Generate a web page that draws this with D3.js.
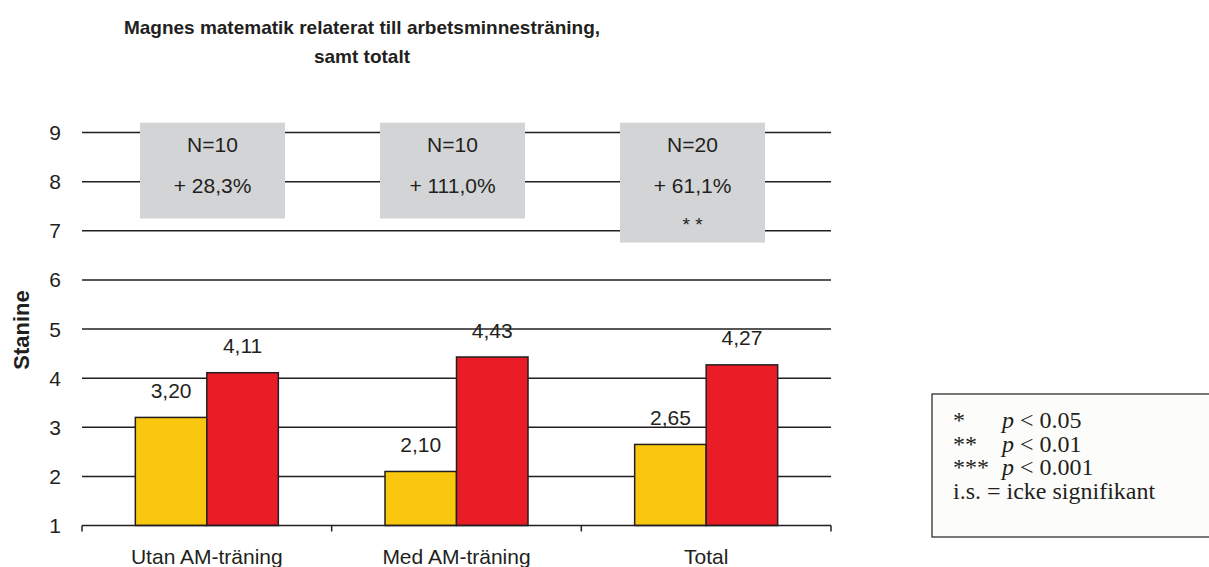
<!DOCTYPE html>
<html>
<head>
<meta charset="utf-8">
<script src="https://cdn.jsdelivr.net/npm/d3@7"></script>
<style>
  body { margin: 0; background: #fff; }
  svg { display: block; font-family: Arial, "Liberation Sans", sans-serif; }
</style>
</head>
<body>
<div id="chart"></div>
<script>
// data
var categories = ["Utan AM-träning", "Med AM-träning", "Total"];
var series = ["före", "efter"];
var before = [3.20, 2.10, 2.65];
var after = [4.11, 4.43, 4.27];
var yTicks = [1, 2, 3, 4, 5, 6, 7, 8, 9];
var boxN = ["N=10", "N=10", "N=20"];
var boxPct = ["+ 28,3%", "+ 111,0%", "+ 61,1%"];
var boxSig = ["", "", "* *"];
var legendRows = [["*", "p < 0.05"], ["**", "p < 0.01"], ["***", "p < 0.001"]];
var legendLast = "i.s. = icke signifikant";

var width = 1209, height = 567;
var colors = { "före": "#f9c80e", "efter": "#ea1d27" };
var ink = "#231f20";

var svg = d3.select("#chart").append("svg")
    .attr("width", width)
    .attr("height", height);

var x = d3.scaleBand().domain(categories).range([82, 831]);
var xBox = d3.scaleBand().domain(categories).range([92.5, 812.5]);
var y = d3.scaleLinear().domain([1, 9]).range([525.5, 132.5]);
var groupW = 143;
var x1 = d3.scaleBand().domain(series)
    .range([(x.bandwidth() - groupW) / 2, (x.bandwidth() + groupW) / 2]);

// title
svg.append("text")
    .attr("x", 362).attr("y", 34)
    .attr("text-anchor", "middle")
    .style("font-size", "19px").style("font-weight", "bold").attr("fill", ink)
    .text("Magnes matematik relaterat till arbetsminnesträning,");
svg.append("text")
    .attr("x", 362).attr("y", 63)
    .attr("text-anchor", "middle")
    .style("font-size", "19px").style("font-weight", "bold").attr("fill", ink)
    .text("samt totalt");

// gridlines
svg.append("g").selectAll("line")
    .data(yTicks.filter(d => d > 1))
    .enter().append("line")
    .attr("x1", 82).attr("x2", 831)
    .attr("y1", d => y(d)).attr("y2", d => y(d))
    .attr("stroke", ink).attr("stroke-width", 1.5);

// y tick labels
svg.append("g").selectAll("text")
    .data(yTicks)
    .enter().append("text")
    .attr("x", 61).attr("y", d => y(d) + 7.5)
    .attr("text-anchor", "end")
    .style("font-size", "21px").attr("fill", ink)
    .text(d => d);

// y axis title
svg.append("text")
    .attr("transform", "translate(29," + 330 + ") rotate(-90)")
    .attr("text-anchor", "middle")
    .style("font-size", "22px").style("font-weight", "bold").attr("fill", ink)
    .text("Stanine");

// annotation boxes
var boxes = svg.append("g").selectAll("g")
    .data(categories)
    .enter().append("g")
    .attr("transform", d => "translate(" + (xBox(d) + xBox.bandwidth() / 2) + ",0)");
boxes.append("rect")
    .attr("x", -72.5).attr("width", 145)
    .attr("y", y(9.2))
    .attr("height", (d, i) => (boxSig[i] ? y(6.76) : y(7.25)) - y(9.2))
    .attr("fill", "#d3d4d6");
boxes.append("text")
    .attr("y", 151.5).attr("text-anchor", "middle")
    .style("font-size", "21px").attr("fill", ink)
    .text((d, i) => boxN[i]);
boxes.append("text")
    .attr("y", 192.5).attr("text-anchor", "middle")
    .style("font-size", "21px").attr("fill", ink)
    .text((d, i) => boxPct[i]);
boxes.append("text")
    .attr("y", 231).attr("text-anchor", "middle")
    .style("font-size", "19px").attr("fill", ink)
    .text((d, i) => boxSig[i]);

// bars
var rows = categories.map((c, i) => ({ cat: c, values: [
    { s: "före", v: before[i] }, { s: "efter", v: after[i] }] }));
var groups = svg.append("g").selectAll("g")
    .data(rows)
    .enter().append("g")
    .attr("transform", d => "translate(" + x(d.cat) + ",0)");
groups.selectAll("rect")
    .data(d => d.values)
    .enter().append("rect")
    .attr("x", d => x1(d.s))
    .attr("width", x1.bandwidth())
    .attr("y", d => y(d.v))
    .attr("height", d => y(1) - y(d.v))
    .attr("fill", d => colors[d.s])
    .attr("stroke", ink).attr("stroke-width", 1.5);
groups.selectAll("text")
    .data(d => d.values)
    .enter().append("text")
    .attr("x", d => x1(d.s) + x1.bandwidth() / 2)
    .attr("y", d => y(d.v) - 19.5)
    .attr("text-anchor", "middle")
    .style("font-size", "21px").attr("fill", ink)
    .text(d => d.v.toFixed(2).replace(".", ","));

// x axis
var xAxis = svg.append("g");
xAxis.append("line")
    .attr("x1", 82).attr("x2", 831)
    .attr("y1", y(1)).attr("y2", y(1))
    .attr("stroke", ink).attr("stroke-width", 1.5);
xAxis.selectAll("line.tick")
    .data(categories.map(c => x(c)).concat([x.range()[1]]))
    .enter().append("line").attr("class", "tick")
    .attr("x1", d => d).attr("x2", d => d)
    .attr("y1", y(1)).attr("y2", y(1) + 6)
    .attr("stroke", ink).attr("stroke-width", 1.5);
xAxis.selectAll("text")
    .data(categories)
    .enter().append("text")
    .attr("x", d => x(d) + x.bandwidth() / 2)
    .attr("y", 563.5)
    .attr("text-anchor", "middle")
    .style("font-size", "21px").attr("fill", ink)
    .text(d => d);

// legend
var legend = svg.append("g").attr("transform", "translate(932,394)");
legend.append("rect")
    .attr("x", 0).attr("y", 0)
    .attr("width", 290).attr("height", 143)
    .attr("fill", "#fcfdfb").attr("stroke", ink).attr("stroke-width", 1.2);
var serif = "'Liberation Serif', 'Times New Roman', serif";
legendRows.forEach((r, i) => {
    var ty = 34 + i * 23.5;
    legend.append("text")
        .attr("x", 21).attr("y", ty)
        .style("font-family", serif).style("font-size", "24px").attr("fill", ink)
        .text(r[0]);
    var t = legend.append("text")
        .attr("x", 70).attr("y", ty)
        .style("font-family", serif).style("font-size", "24px").attr("fill", ink);
    t.append("tspan").style("font-style", "italic").text("p");
    t.append("tspan").text(r[1].slice(1));
});
legend.append("text")
    .attr("x", 21).attr("y", 34 + 3 * 23.5)
    .style("font-family", serif).style("font-size", "24px").attr("fill", ink)
    .text(legendLast);
</script>
</body>
</html>
